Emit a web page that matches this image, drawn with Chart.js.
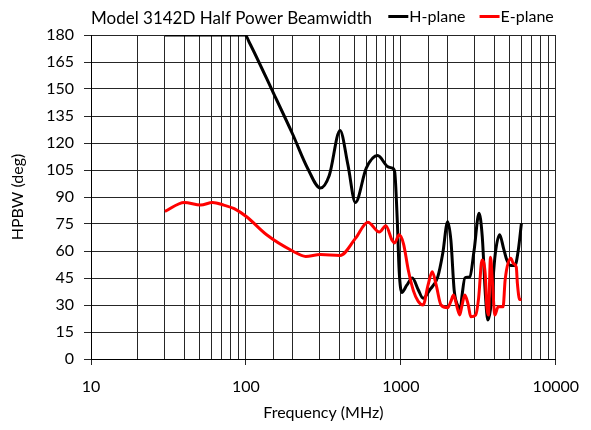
<!DOCTYPE html>
<html>
<head>
<meta charset="utf-8">
<script src="https://cdn.jsdelivr.net/npm/chart.js@4.4.1/dist/chart.umd.min.js"></script>
<style>
  html, body { margin: 0; padding: 0; background: #fff; }
</style>
</head>
<body>
<canvas id="hpbw" width="591" height="430"></canvas>
<script>
// Half power beamwidth, H-plane and E-plane
const chartTitle = "Model 3142D Half Power Beamwidth";
const seriesNames = ["H-plane", "E-plane"];
const seriesColors = ["#000000", "#ff0000"];

const hFreq = [30, 50, 70, 99, 105, 150, 200, 250, 302, 345, 405, 455, 509, 598, 708, 819, 881, 912, 948, 975, 1014,
  1092, 1186, 1294, 1392, 1532, 1732, 1864, 2004, 2103, 2208, 2318, 2420, 2480, 2589, 2786, 2970, 3195, 3352,
  3518, 3641, 3781, 4070, 4340, 4600, 4830, 5120, 5450, 5725, 6000];
const hDeg = [180, 180, 180, 180, 176, 148, 125, 106, 95, 102, 127, 108, 87, 106, 113, 107, 106, 104, 77, 49, 37,
  41, 45, 38.5, 33.7, 38.3, 45.7, 58.7, 76.3, 66, 38.3, 30, 27.5, 35, 45, 45.7, 60.4, 81, 68,
  34.6, 21.7, 27.2, 58.7, 69, 61.5, 55, 52, 52, 60.4, 75.5];

const eFreq = [30, 40, 51, 61, 72, 84, 101, 136, 200, 243, 302, 405, 509, 612, 726, 800, 877, 912, 975, 1040,
  1119, 1204, 1294, 1392, 1497, 1594, 1691, 1816, 2004, 2103, 2187, 2318, 2397, 2470, 2589, 2723, 2826, 3041,
  3177, 3340, 3501, 3589, 3674, 3790, 3917, 4040, 4250, 4570, 4710, 5120, 5330, 5560, 5650, 5850, 6000];
const eDeg = [82, 87, 85.5, 87, 85.5, 83.5, 79, 69, 60, 57, 58, 57.5, 67, 76, 70.5, 74, 66, 64.5, 69, 64,
  49, 38, 32, 30, 41, 48.5, 41, 30, 28.5, 32, 35.5, 28, 24.5, 29, 35.5, 30, 23.5, 24.5,
  34, 55, 47.6, 29, 24.4, 56.5, 40, 24.4, 29, 29, 44, 56, 53, 51, 42, 33, 33];

const xTickLabels = [10, 100, 1000, 10000];
const yMin = 0, yMax = 180, yStep = 15;

const fontFamily = "Lato, 'Open Sans', sans-serif";

function toPoints(xs, ys) {
  return xs.map((x, i) => ({ x: x, y: ys[i] }));
}

function isLabelTick(v) {
  return xTickLabels.some(t => Math.abs(t - v) < 1e-6);
}

// title on the left, legend on the right of the same row
const headerPlugin = {
  id: "header",
  afterDraw(chart) {
    const ctx = chart.ctx;
    const area = chart.chartArea;
    ctx.save();
    ctx.fillStyle = "#000";
    ctx.textBaseline = "alphabetic";
    ctx.font = "17px " + fontFamily;
    ctx.fillText(chartTitle, area.left, 24);

    ctx.font = "16px " + fontFamily;
    const sets = chart.data.datasets;
    const lineW = 20, gap = 1, itemGap = 14;
    let total = 0;
    sets.forEach((ds, i) => {
      total += lineW + gap + ctx.measureText(ds.label).width;
      if (i < sets.length - 1) total += itemGap;
    });
    let x = area.right - 2 - total;
    sets.forEach(ds => {
      ctx.strokeStyle = ds.borderColor;
      ctx.lineWidth = 3;
      ctx.beginPath();
      ctx.moveTo(x, 16.5);
      ctx.lineTo(x + lineW, 16.5);
      ctx.stroke();
      x += lineW + gap;
      ctx.fillText(ds.label, x, 22);
      x += ctx.measureText(ds.label).width + itemGap;
    });
    ctx.restore();
  }
};

new Chart(document.getElementById("hpbw"), {
  type: "line",
  data: {
    datasets: [{
      label: seriesNames[0],
      data: toPoints(hFreq, hDeg),
      borderColor: seriesColors[0],
      backgroundColor: seriesColors[0],
      borderWidth: 3,
      pointRadius: 0,
      cubicInterpolationMode: "monotone",
      order: 1
    }, {
      label: seriesNames[1],
      data: toPoints(eFreq, eDeg),
      borderColor: seriesColors[1],
      backgroundColor: seriesColors[1],
      borderWidth: 3,
      pointRadius: 0,
      cubicInterpolationMode: "monotone",
      order: 0
    }]
  },
  options: {
    responsive: false,
    animation: false,
    layout: { padding: { top: 35, right: 26, left: 0, bottom: 0 } },
    plugins: {
      legend: { display: false },
      tooltip: { enabled: false }
    },
    scales: {
      x: {
        type: "logarithmic",
        min: 10,
        max: 10000,
        afterFit: s => { s.height = 71; },
        border: { color: "#000" },
        grid: {
          color: "#262626",
          tickLength: 6,
          tickColor: c => (c.tick && isLabelTick(c.tick.value)) ? "#262626" : "rgba(0,0,0,0)"
        },
        ticks: {
          autoSkip: false,
          maxRotation: 0,
          padding: 12,
          color: "#000",
          font: { family: fontFamily, size: 16 },
          callback: v => isLabelTick(v) ? String(v) : ""
        },
        title: {
          display: true,
          text: "Frequency (MHz)",
          color: "#000",
          font: { family: fontFamily, size: 16 },
          padding: { top: 0, bottom: 8 }
        }
      },
      y: {
        min: yMin,
        max: yMax,
        afterFit: s => { s.width = 91; },
        border: { color: "#000" },
        grid: { color: "#262626", tickLength: 7 },
        ticks: {
          stepSize: yStep,
          padding: 10,
          color: "#000",
          font: { family: fontFamily, size: 16 }
        },
        title: {
          display: true,
          text: "HPBW (deg)",
          color: "#000",
          font: { family: fontFamily, size: 16 },
          padding: { top: 8, bottom: 0 }
        }
      }
    }
  },
  plugins: [headerPlugin]
});
</script>
</body>
</html>
